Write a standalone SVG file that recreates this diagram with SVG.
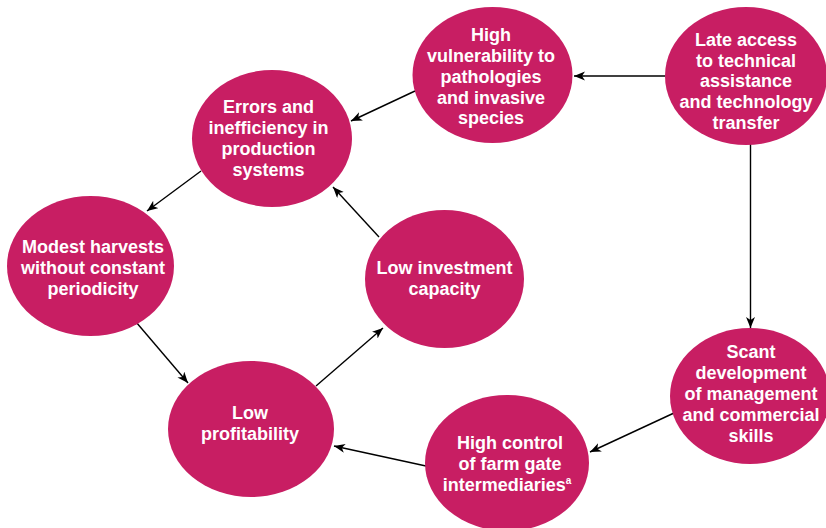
<svg xmlns="http://www.w3.org/2000/svg" width="826" height="528" viewBox="0 0 826 528">
<style>
.n{fill:#C81E63;}
.t{font-family:"Liberation Sans",Arial,sans-serif;font-weight:bold;font-size:18px;fill:#fff;text-anchor:middle;}
.sup{font-size:10px;}
.c{stroke:#000;stroke-width:1.4;fill:none;marker-end:url(#ah);}
</style>
<defs>
<marker id="ah" markerUnits="userSpaceOnUse" markerWidth="12" markerHeight="10" refX="11" refY="4.5" orient="auto">
<path d="M0,0 L11,4.5 L0,9 L3,4.5 z" fill="#000"/>
</marker>
</defs>
<g id="connectors">
<line class="c" x1="665" y1="76" x2="574" y2="76"/>
<line class="c" x1="415" y1="91" x2="351" y2="121"/>
<line class="c" x1="201" y1="171" x2="147" y2="211"/>
<line class="c" x1="379" y1="237" x2="333" y2="187"/>
<line class="c" x1="136" y1="322" x2="188" y2="383"/>
<line class="c" x1="316" y1="386" x2="383" y2="328"/>
<line class="c" x1="750.5" y1="143" x2="750.5" y2="328"/>
<line class="c" x1="674" y1="413" x2="590" y2="452"/>
<line class="c" x1="426" y1="466" x2="334" y2="446"/>
</g>
<g id="n-vulnerability">
<ellipse class="n" cx="492.5" cy="75" rx="80" ry="68"/>
<text class="t"><tspan x="491" y="41">High</tspan><tspan x="491" y="62">vulnerability to</tspan><tspan x="491" y="83">pathologies</tspan><tspan x="491" y="104">and invasive</tspan><tspan x="491" y="124">species</tspan></text>
</g>
<g id="n-lateaccess">
<ellipse class="n" cx="746" cy="76" rx="81" ry="69"/>
<text class="t"><tspan x="746" y="46">Late access</tspan><tspan x="746" y="67">to technical</tspan><tspan x="746" y="87">assistance</tspan><tspan x="746" y="108">and technology</tspan><tspan x="746" y="129">transfer</tspan></text>
</g>
<g id="n-errors">
<ellipse class="n" cx="272" cy="138.5" rx="80" ry="68.5"/>
<text class="t"><tspan x="268.5" y="113">Errors and</tspan><tspan x="268.5" y="134">inefficiency in</tspan><tspan x="268.5" y="155">production</tspan><tspan x="268.5" y="176">systems</tspan></text>
</g>
<g id="n-modest">
<ellipse class="n" cx="90.5" cy="266" rx="83.5" ry="70"/>
<text class="t"><tspan x="93" y="253">Modest harvests</tspan><tspan x="93" y="274">without constant</tspan><tspan x="93" y="295">periodicity</tspan></text>
</g>
<g id="n-investment">
<ellipse class="n" cx="444.5" cy="279" rx="79.5" ry="69"/>
<text class="t"><tspan x="444.5" y="274">Low investment</tspan><tspan x="444.5" y="295">capacity</tspan></text>
</g>
<g id="n-profitability">
<ellipse class="n" cx="251" cy="429" rx="83" ry="68"/>
<text class="t"><tspan x="250" y="419">Low</tspan><tspan x="250" y="440">profitability</tspan></text>
</g>
<g id="n-intermediaries">
<ellipse class="n" cx="507" cy="463" rx="82" ry="68"/>
<text class="t"><tspan x="510" y="449">High control</tspan><tspan x="510" y="470">of farm gate</tspan><tspan x="507" y="491">intermediaries<tspan class="sup" dy="-7">a</tspan></tspan></text>
</g>
<g id="n-scant">
<ellipse class="n" cx="750" cy="396" rx="80" ry="68"/>
<text class="t"><tspan x="751" y="358">Scant</tspan><tspan x="751" y="379">development</tspan><tspan x="751" y="400">of management</tspan><tspan x="751" y="421">and commercial</tspan><tspan x="751" y="442">skills</tspan></text>
</g>
</svg>
